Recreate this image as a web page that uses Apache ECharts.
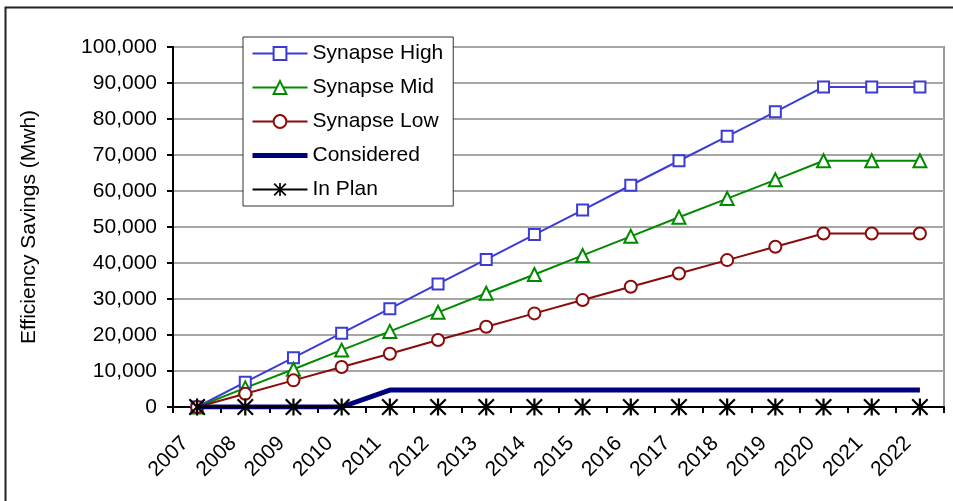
<!DOCTYPE html>
<html>
<head>
<meta charset="utf-8">
<script src="https://cdn.jsdelivr.net/npm/echarts@6/dist/echarts.min.js"></script>
<style>
  html, body { margin: 0; padding: 0; background: #fff; }
  #chart { width: 953px; height: 501px; }
</style>
</head>
<body>
<div id="chart"></div>
<script>
// Years on the category axis
const years = ['2007', '2008', '2009', '2010', '2011', '2012', '2013', '2014',
               '2015', '2016', '2017', '2018', '2019', '2020', '2021', '2022'];

// Cumulative efficiency savings (MWh)
const synapseHigh = [0, 6900, 13700, 20500, 27300, 34200, 41000, 47900,
                     54700, 61600, 68400, 75200, 82000, 88900, 88900, 88900];
const synapseMid  = [0, 5300, 10500, 15800, 21000, 26300, 31600, 36800,
                     42100, 47400, 52700, 57900, 63100, 68400, 68400, 68400];
const synapseLow  = [0, 3700, 7400, 11100, 14800, 18600, 22300, 26000,
                     29700, 33400, 37100, 40800, 44500, 48200, 48200, 48200];
const considered  = [0, 0, 0, 0, 4700, 4700, 4700, 4700,
                     4700, 4700, 4700, 4700, 4700, 4700, 4700, 4700];
const inPlan      = [0, 0, 0, 0, 0, 0, 0, 0, 0, 0, 0, 0, 0, 0, 0, 0];

// Six-armed asterisk marker built from three bars
const asterisk = 'path://M8.7,0L11.3,0L11.3,20L8.7,20Z' +
                 'M0,1.84L1.84,0L20,18.16L18.16,20Z' +
                 'M18.16,0L20,1.84L1.84,20L0,18.16Z';

const FONT = 'Liberation Sans, Arial, sans-serif';

const chart = echarts.init(document.getElementById('chart'), null, { renderer: 'canvas' });

function fmt(v) {
  return String(v).replace(/\B(?=(\d{3})+(?!\d))/g, ',');
}

chart.setOption({
  animation: false,
  backgroundColor: '#fff',
  textStyle: { fontFamily: FONT, color: '#000' },
  graphic: [{
    type: 'polyline',
    shape: { points: [[5.5, 501], [5.5, 7.5], [953, 7.5]] },
    style: { stroke: '#222', lineWidth: 2, fill: null },
    z: 100
  }],
  grid: {
    left: 173, right: 9, top: 47, bottom: 94,
    show: true, borderColor: '#9a9a9a', borderWidth: 2, backgroundColor: '#fff'
  },
  legend: {
    orient: 'vertical',
    left: 243, top: 37,
    padding: [6, 10, 6, 7],
    itemWidth: 55, itemHeight: 16, itemGap: 13,
    backgroundColor: '#fff',
    borderColor: '#333', borderWidth: 1,
    textStyle: { fontFamily: FONT, fontSize: 21, color: '#000' },
    data: [
      'Synapse High',
      'Synapse Mid',
      'Synapse Low',
      { name: 'Considered', itemStyle: { opacity: 0 }, lineStyle: { width: 5 } },
      'In Plan'
    ]
  },
  xAxis: {
    type: 'category',
    data: years,
    boundaryGap: true,
    axisLine: { lineStyle: { color: '#000', width: 2 } },
    axisTick: { show: true, length: 6, lineStyle: { color: '#000', width: 2 } },
    axisLabel: {
      rotate: 45, fontSize: 21, fontFamily: FONT, color: '#000',
      margin: 21, padding: [0, 17, 0, 0], interval: 0
    },
    splitLine: { show: false }
  },
  yAxis: {
    type: 'value',
    min: 0, max: 100000, interval: 10000,
    name: 'Efficiency Savings (Mwh)',
    nameLocation: 'middle',
    nameGap: 133,
    nameTextStyle: { fontSize: 21, fontFamily: FONT, color: '#000' },
    axisLine: { show: true, lineStyle: { color: '#000', width: 2 } },
    axisTick: { show: true, length: 6, lineStyle: { color: '#000', width: 2 } },
    axisLabel: { fontSize: 21, fontFamily: FONT, color: '#000', margin: 16, formatter: fmt },
    splitLine: { show: true, lineStyle: { color: '#a6a6a6', width: 2 } }
  },
  series: [
    {
      name: 'Synapse High', type: 'line', data: synapseHigh,
      symbol: 'rect', symbolSize: 11, showAllSymbol: true,
      lineStyle: { color: '#3b3bd6', width: 2 },
      itemStyle: { color: '#fff', borderColor: '#3b3bd6', borderWidth: 2 },
      z: 3
    },
    {
      name: 'Synapse Mid', type: 'line', data: synapseMid,
      symbol: 'triangle', symbolSize: 13, showAllSymbol: true,
      lineStyle: { color: '#008a00', width: 2 },
      itemStyle: { color: '#fff', borderColor: '#008a00', borderWidth: 2 },
      z: 3
    },
    {
      name: 'Synapse Low', type: 'line', data: synapseLow,
      symbol: 'circle', symbolSize: 12, showAllSymbol: true,
      lineStyle: { color: '#8b0a0a', width: 2 },
      itemStyle: { color: '#fff', borderColor: '#8b0a0a', borderWidth: 2 },
      z: 3
    },
    {
      name: 'Considered', type: 'line', data: considered,
      symbol: 'none',
      lineStyle: { color: '#00007f', width: 5 },
      itemStyle: { color: '#00007f' },
      z: 4
    },
    {
      name: 'In Plan', type: 'line', data: inPlan,
      symbol: asterisk, symbolSize: 17, showAllSymbol: true,
      lineStyle: { color: '#000', width: 2 },
      itemStyle: { color: '#000' },
      z: 5
    }
  ]
});
</script>
</body>
</html>
